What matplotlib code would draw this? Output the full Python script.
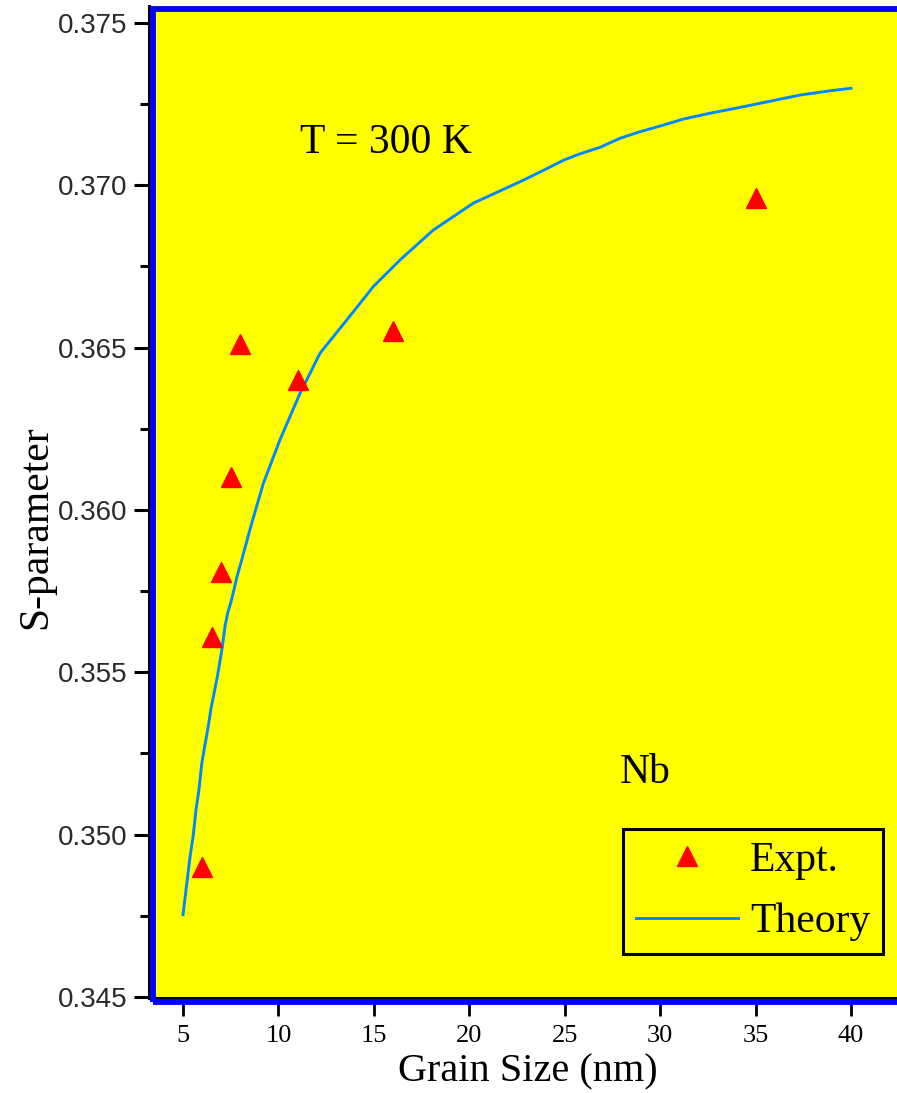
import numpy as np
import matplotlib.pyplot as plt
from matplotlib.patches import Rectangle
from matplotlib.ticker import MultipleLocator, FormatStrFormatter
from matplotlib.lines import Line2D

# measured S-parameter vs grain size (Nb, 300 K)
grain_expt = [6.0, 6.5, 7.0, 7.5, 8.0, 11.0, 16.0, 35.0]
s_expt = [0.3490, 0.3561, 0.3581, 0.3610, 0.3651, 0.3640, 0.3655, 0.3696]

# model curve
grain_theory = [5.0, 5.19, 5.37, 5.54, 5.68, 5.84, 5.98, 6.15, 6.33, 6.47,
                6.64, 6.80, 6.94, 7.06, 7.20, 7.34, 7.52, 7.67, 7.83, 8.02,
                8.60, 9.21, 10.08, 11.13, 12.18, 13.58, 14.97, 16.37, 18.11,
                20.21, 22.66, 23.71, 24.96, 25.80, 26.85, 27.90, 28.94,
                30.08, 31.21, 32.61, 34.18, 35.67, 37.33, 38.90, 40.0]
s_theory = [0.34753, 0.34845, 0.34932, 0.34999, 0.35076, 0.35140, 0.35218,
            0.35276, 0.35336, 0.35389, 0.35439, 0.35487, 0.35535, 0.35579,
            0.35641, 0.35682, 0.35718, 0.35754, 0.35795, 0.35834, 0.35959,
            0.36082, 0.36216, 0.36359, 0.36483, 0.36585, 0.36688, 0.36770,
            0.36862, 0.36945, 0.37011, 0.37041, 0.37078, 0.37097, 0.37117,
            0.37145, 0.37165, 0.37184, 0.37204, 0.37222, 0.37240, 0.37258,
            0.37278, 0.37291, 0.37299]

x_ticks = [5, 10, 15, 20, 25, 30, 35, 40]

serif = ['Liberation Serif', 'DejaVu Serif']
sans = ['Liberation Sans', 'DejaVu Sans']
yellow = '#ffff00'
frame_blue = '#0000ff'
line_blue = '#0088ff'

W, H = 897, 1093
fig = plt.figure(figsize=(W / 100, H / 100), dpi=100)
# axes runs off the right edge of the canvas
ax = fig.add_axes([148.5 / W, 1 - 997.5 / H, (930 - 148.5) / W, (997.5 - 6) / H])
ax.set_facecolor(yellow)
ax.set_xlim(3.192, 44.14)
ax.set_ylim(0.34498, 0.375524)

ax.plot(grain_theory, s_theory, color=line_blue, lw=2.1, zorder=2)
ax.plot(grain_expt, s_expt, ls='none', marker='^', ms=14.5, color='#ff0000',
        mec='#ff0000', zorder=3)

# thick blue frame just inside the black axis lines
ax.add_patch(Rectangle((0.0055, -0.0045), 1.5, 0.99697 + 0.0045,
                       transform=ax.transAxes, fill=False, ec=frame_blue,
                       lw=4.2, clip_on=False, zorder=2.6))

for side in ('top', 'right'):
    ax.spines[side].set_visible(False)
for side in ('left', 'bottom'):
    ax.spines[side].set_linewidth(2.2)
    ax.spines[side].set_color('black')

ax.set_xticks(x_ticks)
ax.yaxis.set_major_locator(MultipleLocator(0.005))
ax.yaxis.set_minor_locator(MultipleLocator(0.0025))
ax.yaxis.set_major_formatter(FormatStrFormatter('%.3f'))
ax.tick_params(axis='x', direction='out', length=12.6, width=2, pad=7)
ax.tick_params(axis='y', which='major', direction='out', length=10.8,
               width=2.2, pad=4.5)
ax.tick_params(axis='y', which='minor', direction='out', length=6.5,
               width=2.2)
for lab in ax.get_xticklabels():
    lab.set_fontfamily(serif)
    lab.set_fontsize(19)
for lab in ax.get_yticklabels():
    lab.set_fontfamily(sans)
    lab.set_fontsize(20)
    lab.set_color('#2a2a2a')

ax.set_xlabel('Grain Size (nm)', fontsize=29, family=serif)
ax.xaxis.set_label_coords(0.485, -0.056)
ax.set_ylabel('S-parameter', fontsize=30, family=serif)
ax.yaxis.set_label_coords(-0.1196, 0.474)

ax.text(11.13, 0.3710, 'T = 300 K', fontsize=30, family=serif,
        ha='left', va='baseline')
ax.text(27.9, 0.35159, 'Nb', fontsize=30, family=serif,
        ha='left', va='baseline')

handles = [Line2D([], [], ls='none', marker='^', ms=14, color='#ff0000'),
           Line2D([], [], color=line_blue, lw=2.1)]
leg = ax.legend(handles, ['Expt.', 'Theory'], loc='upper left',
                bbox_to_anchor=(623 / W, 1 - 829 / H),
                bbox_transform=fig.transFigure, borderaxespad=0,
                fancybox=False, edgecolor='black', facecolor=yellow,
                framealpha=1, prop={'family': serif, 'size': 30},
                handlelength=2.45, handletextpad=0.3, labelspacing=0.55,
                borderpad=0.3, numpoints=1)
leg.get_frame().set_linewidth(2.2)

fig.savefig('out.png', dpi=100)
